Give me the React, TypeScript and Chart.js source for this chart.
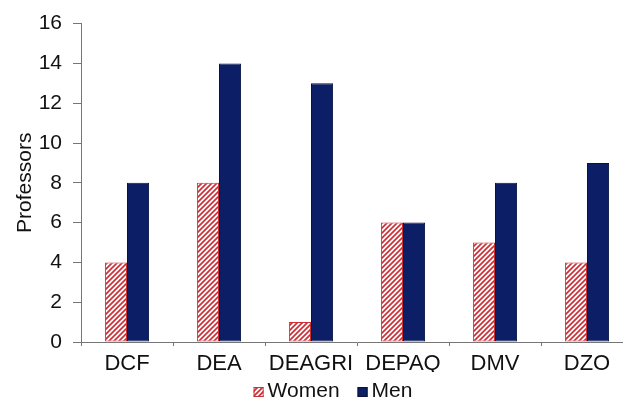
import React, { useEffect, useRef } from "react";
import { Chart, registerables } from "chart.js";

Chart.register(...registerables);

const departments = ["DCF", "DEA", "DEAGRI", "DEPAQ", "DMV", "DZO"];
const women = [4, 8, 1, 6, 5, 4];
const men = [8, 14, 13, 6, 8, 9];
const yTicks = [0, 2, 4, 6, 8, 10, 12, 14, 16];

const FONT = "'Liberation Sans', Arial, Helvetica, sans-serif";
const AXIS_GREY = "#767676";
const TEXT = "#111111";
const NAVY = "#0c1f66";
const HATCH_RED = "#cc3036";

function makeHatch(): CanvasPattern | string {
  const size = 5;
  const c = document.createElement("canvas");
  c.width = size;
  c.height = size;
  const g = c.getContext("2d");
  if (!g) return HATCH_RED;
  g.fillStyle = "#ffffff";
  g.fillRect(0, 0, size, size);
  g.strokeStyle = HATCH_RED;
  g.lineWidth = 1.7;
  g.beginPath();
  // diagonal strokes rising to the right, tiled seamlessly
  g.moveTo(-1, size + 1);
  g.lineTo(size + 1, -1);
  g.moveTo(-1, 1);
  g.lineTo(1, -1);
  g.moveTo(size - 1, size + 1);
  g.lineTo(size + 1, size - 1);
  g.stroke();
  const p = g.createPattern(c, "repeat");
  return p || HATCH_RED;
}

// Legend drawn beneath the axis: small swatch, then the label
const bottomLegend = {
  id: "bottomLegend",
  afterDraw(chart: any, _args: any, opts: any) {
    const ctx = chart.ctx as CanvasRenderingContext2D;
    const box = 10;
    const gap = 4;
    const spacing = 18;
    ctx.save();
    ctx.font = `${opts.fontSize}px ${FONT}`;
    const items = chart.data.datasets.map((ds: any) => ({
      label: ds.label as string,
      fill: ds.backgroundColor,
      stroke: ds.borderColor,
      w: ctx.measureText(ds.label).width,
    }));
    const total =
      items.reduce((s: number, it: any) => s + box + gap + it.w, 0) +
      spacing * (items.length - 1);
    let x = opts.centerX - total / 2;
    const y = opts.centerY;
    items.forEach((it: any) => {
      ctx.fillStyle = it.fill;
      ctx.fillRect(x, y - box / 2 + 1, box, box);
      ctx.strokeStyle = it.stroke;
      ctx.lineWidth = 1;
      ctx.strokeRect(x + 0.5, y - box / 2 + 1.5, box - 1, box - 1);
      ctx.fillStyle = TEXT;
      ctx.textBaseline = "middle";
      ctx.textAlign = "left";
      ctx.fillText(it.label, x + box + gap, y);
      x += box + gap + it.w + spacing;
    });
    ctx.restore();
  },
};

export default function App() {
  const canvasRef = useRef<HTMLCanvasElement | null>(null);

  useEffect(() => {
    const canvas = canvasRef.current;
    if (!canvas) return;
    const hatch = makeHatch();
    const chart = new Chart(canvas, {
      type: "bar",
      data: {
        labels: departments,
        datasets: [
          {
            label: "Women",
            data: women,
            backgroundColor: hatch as any,
            borderColor: HATCH_RED,
            borderWidth: 1,
            borderSkipped: false,
            barPercentage: 1,
            categoryPercentage: 0.48,
          },
          {
            label: "Men",
            data: men,
            backgroundColor: NAVY,
            borderColor: "#06123f",
            borderWidth: 1,
            borderSkipped: false,
            barPercentage: 1,
            categoryPercentage: 0.48,
          },
        ],
      },
      options: {
        responsive: false,
        animation: false,
        devicePixelRatio: 1,
        layout: { padding: { top: 20, left: 0, right: 33, bottom: 30 } },
        plugins: {
          legend: { display: false },
          tooltip: { enabled: false },
          bottomLegend: { centerX: 333, centerY: 391, fontSize: 21 },
        } as any,
        scales: {
          x: {
            offset: true,
            grid: {
              drawOnChartArea: false,
              offset: true,
              tickLength: 4,
              color: AXIS_GREY,
            },
            border: { color: AXIS_GREY, width: 1 },
            ticks: {
              padding: 5,
              color: TEXT,
              font: { family: FONT, size: 22 },
              maxRotation: 0,
              autoSkip: false,
            },
            afterFit(scale: any) {
              scale.height = 30;
            },
          },
          y: {
            min: 0,
            max: 16,
            afterBuildTicks(scale: any) {
              scale.ticks = yTicks.map((v) => ({ value: v }));
            },
            grid: {
              drawOnChartArea: false,
              tickLength: 8,
              color: AXIS_GREY,
            },
            border: { color: AXIS_GREY, width: 1 },
            ticks: {
              padding: 11,
              color: TEXT,
              font: { family: FONT, size: 21 },
            },
            title: {
              display: true,
              text: "Professors",
              color: TEXT,
              font: { family: FONT, size: 21 },
              padding: { top: 13, bottom: 0 },
            },
            afterFit(scale: any) {
              scale.width = 81;
            },
          },
        },
      },
      plugins: [bottomLegend],
    });
    return () => chart.destroy();
  }, []);

  return (
    <div
      style={{
        position: "fixed",
        left: 0,
        top: 0,
        width: 623,
        height: 402,
        overflow: "hidden",
        background: "#ffffff",
      }}
    >
      <canvas ref={canvasRef} width={666} height={402} />
    </div>
  );
}
